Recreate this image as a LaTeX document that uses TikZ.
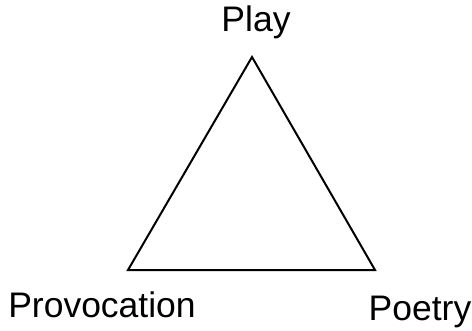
\documentclass[tikz,border=0pt]{standalone}
\usepackage{fontspec}
\setmainfont{Liberation Sans}
\begin{document}
\begin{tikzpicture}[x=1pt,y=1pt,
	label text/.style={inner sep=0pt,anchor=base,font=\fontsize{35.5}{42}\selectfont}]
	\useasboundingbox (0,0) rectangle (472,330);
	\coordinate (top) at (252,273);
	\coordinate (left) at (128,60);
	\coordinate (right) at (375,60);
	\draw [line width=2pt,line join=miter] (top) -- (right) -- (left) -- cycle;
	\node [label text] (play) at (256,298) {Play};
	\node [label text] (prov) at (102,13) {Provocation};
	\node [label text] (poet) at (420,10) {Poetry};
\end{tikzpicture}
\end{document}
